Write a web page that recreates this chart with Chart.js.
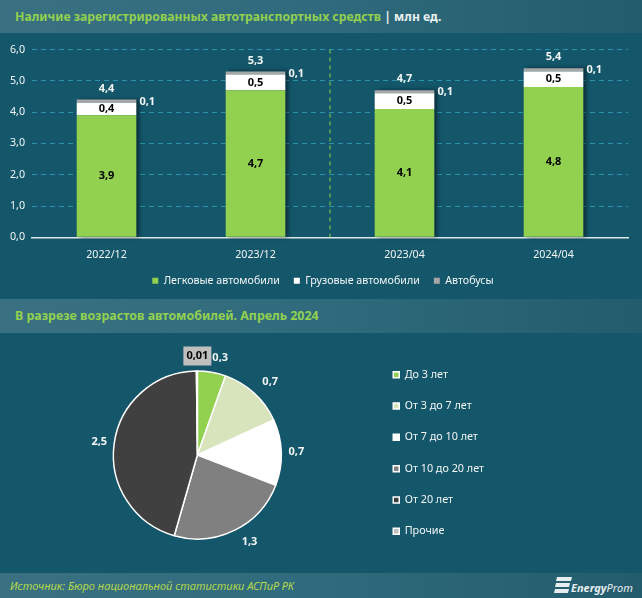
<!DOCTYPE html>
<html><head><meta charset="utf-8">
<script src="https://cdn.jsdelivr.net/npm/chart.js@4"></script>
<style>
html,body{margin:0;padding:0}
body{width:642px;height:598px;background:#14566a;position:relative;overflow:hidden;font-family:"Noto Sans",sans-serif}
.band{position:absolute;left:0;width:642px;background:linear-gradient(90deg,#3a7182,#2f6b7d 50%,#235c6c)}
.t{position:absolute;left:15px;font-weight:700;font-size:12.2px;color:#92d050;white-space:nowrap}
canvas{position:absolute}
</style></head><body>
<div class="band" style="top:0;height:33px"></div>
<div class="band" style="top:299px;height:34px"></div>
<div class="band" style="top:573px;height:25px"></div>
<div class="t" style="top:8px">Наличие зарегистрированных автотранспортных средств <span style="color:#e8f0f0">| млн ед.</span></div>
<div class="t" style="top:307px;font-size:12.4px">В разрезе возрастов автомобилей. Апрель 2024</div>
<div style="position:absolute;left:10px;top:578px;font:italic 11px 'Noto Sans';color:#b4d94a">Источник: Бюро национальной статистики АСПиР РК</div>
<svg style="position:absolute;left:554px;top:577px" width="18" height="18" viewBox="0 0 18 18"><path d="M3 0H18L17 4H2ZM2 6H16L15 10H1ZM1 12H15L14 16H0Z" fill="#e8eef0"/></svg>
<div style="position:absolute;left:571px;top:580px;font:italic 11px 'Noto Sans';color:#e8eef0;white-space:nowrap"><b>Energy</b>Prom</div>
<canvas id="bar" style="left:0;top:33px" width="642" height="265"></canvas>
<canvas id="pie" style="left:0;top:337px" width="516" height="236"></canvas>
<script>
const categories=["2022/12","2023/12","2023/04","2024/04"];
const cars=[3.9,4.7,4.1,4.8];
const trucks=[0.4,0.5,0.5,0.5];
const buses=[0.1,0.1,0.1,0.1];
const totals=[4.4,5.3,4.7,5.4];
const ageLabels=["До 3 лет","От 3 до 7 лет","От 7 до 10 лет","От 10 до 20 лет","От 20 лет","Прочие"];
const ageValues=[0.3,0.7,0.7,1.3,2.5,0.01];
const ageColors=["#92d050","#d8e4bc","#ffffff","#808080","#404040","#bfbfbf"];
const fmt=(v,d)=>v.toFixed(d).replace('.',',');
const F="'Noto Sans',sans-serif";

const barPlugin={id:'barExtras',
 afterLayout(c){c.legend.left+=9;c.legend.right+=9;},
 beforeDatasetsDraw(c){const {ctx,scales:{x,y}}=c;const m=(x.getPixelForValue(1)+x.getPixelForValue(2))/2;
  ctx.save();ctx.strokeStyle='#92d050';ctx.lineWidth=1;ctx.setLineDash([4,4]);ctx.beginPath();ctx.moveTo(m,y.top);ctx.lineTo(m,y.bottom);ctx.stroke();ctx.restore();
  ctx.save();ctx.shadowColor='rgba(0,0,0,.5)';ctx.shadowBlur=4;ctx.shadowOffsetX=3;ctx.fillStyle='#14566a';
  const m0=c.getDatasetMeta(0).data,m2=c.getDatasetMeta(2).data;
  m0.forEach((b,i)=>{const t=m2[i].y;ctx.fillRect(b.x-b.width/2,t,b.width,b.base-t);});ctx.restore();},
 afterDraw(c){const {ctx}=c;ctx.save();ctx.textAlign='center';ctx.textBaseline='middle';ctx.font="bold 11px "+F;
  const m0=c.getDatasetMeta(0).data,m1=c.getDatasetMeta(1).data,m2=c.getDatasetMeta(2).data;
  categories.forEach((_,i)=>{
   ctx.fillStyle='#000';
   ctx.fillText(fmt(cars[i],1),m0[i].x,(m0[i].y+m0[i].base)/2);
   ctx.fillText(fmt(trucks[i],1),m1[i].x,(m1[i].y+m1[i].base)/2);
   ctx.fillStyle='#f2f6f6';
   ctx.fillText(fmt(totals[i],1),m2[i].x,m2[i].y-11);
   ctx.fillText(fmt(buses[i],1),m2[i].x+m2[i].width/2+11,m2[i].y+2);
  });ctx.restore();}
};
new Chart(document.getElementById('bar'),{type:'bar',plugins:[barPlugin],
 data:{labels:categories,datasets:[
  {label:'Легковые автомобили',data:cars,backgroundColor:'#92d050'},
  {label:'Грузовые автомобили',data:trucks,backgroundColor:'#ffffff'},
  {label:'Автобусы',data:buses,backgroundColor:'#a6a6a6'}]},
 options:{responsive:false,animation:false,layout:{padding:{top:16.5,right:14,left:0,bottom:2}},
  datasets:{bar:{categoryPercentage:1,barPercentage:0.4}},
  plugins:{tooltip:{enabled:false},legend:{position:'bottom',labels:{boxWidth:6,boxHeight:6,color:'#f2f6f6',font:{size:10.7,family:F},padding:14}}},
  scales:{
   x:{stacked:true,afterFit(s){s.height=24;},grid:{display:false,drawTicks:false},border:{color:'#dfe8e8',width:1.5},ticks:{color:'#f2f6f6',font:{size:10.7,family:F},padding:11,maxRotation:0}},
   y:{stacked:true,min:0,max:6,afterFit(s){s.width=32;},grid:{color:'#2a93ad',drawTicks:false,tickLength:0},border:{display:false,dash:[5,4]},
    ticks:{stepSize:1,color:'#f2f6f6',font:{size:10.7,family:F},padding:7,callback:v=>fmt(v,1)}}
  }}});

const piePlugin={id:'pieLabels',
 afterLayout(c){c.legend.top-=2;c.legend.bottom-=2;c.legend.left-=22;c.legend.right-=22;},
 afterDraw(c){const {ctx}=c;const arcs=c.getDatasetMeta(0).data;ctx.save();ctx.textAlign='center';ctx.textBaseline='middle';ctx.font="bold 11px "+F;
  arcs.forEach((a,i)=>{const mid=(a.startAngle+a.endAngle)/2;const R=a.outerRadius+15;
   let px=a.x+Math.cos(mid)*R,py=a.y+Math.sin(mid)*R;
   if(i===0)px+=6;
   if(i===1)px+=6;
   if(i===3){px+=8;py-=2;}
   if(i===5){px=a.x;ctx.fillStyle='#bfbfbf';ctx.fillRect(px-14,py-9.5,28,19);ctx.fillStyle='#000';}
   else ctx.fillStyle='#f2f6f6';
   ctx.fillText(i===5?fmt(ageValues[i],2):fmt(ageValues[i],1),px,py);});
  ctx.restore();}};
new Chart(document.getElementById('pie'),{type:'pie',plugins:[piePlugin],
 data:{labels:ageLabels,datasets:[{data:ageValues,backgroundColor:ageColors,borderColor:'#ffffff',borderWidth:1.5}]},
 options:{responsive:false,animation:false,rotation:0,radius:84,layout:{padding:0},
  plugins:{tooltip:{enabled:false},legend:{position:'right',align:'center',labels:{boxWidth:6,boxHeight:6,color:'#f2f6f6',font:{size:10.8,family:F},padding:20.5}}}}});
</script></body></html>
